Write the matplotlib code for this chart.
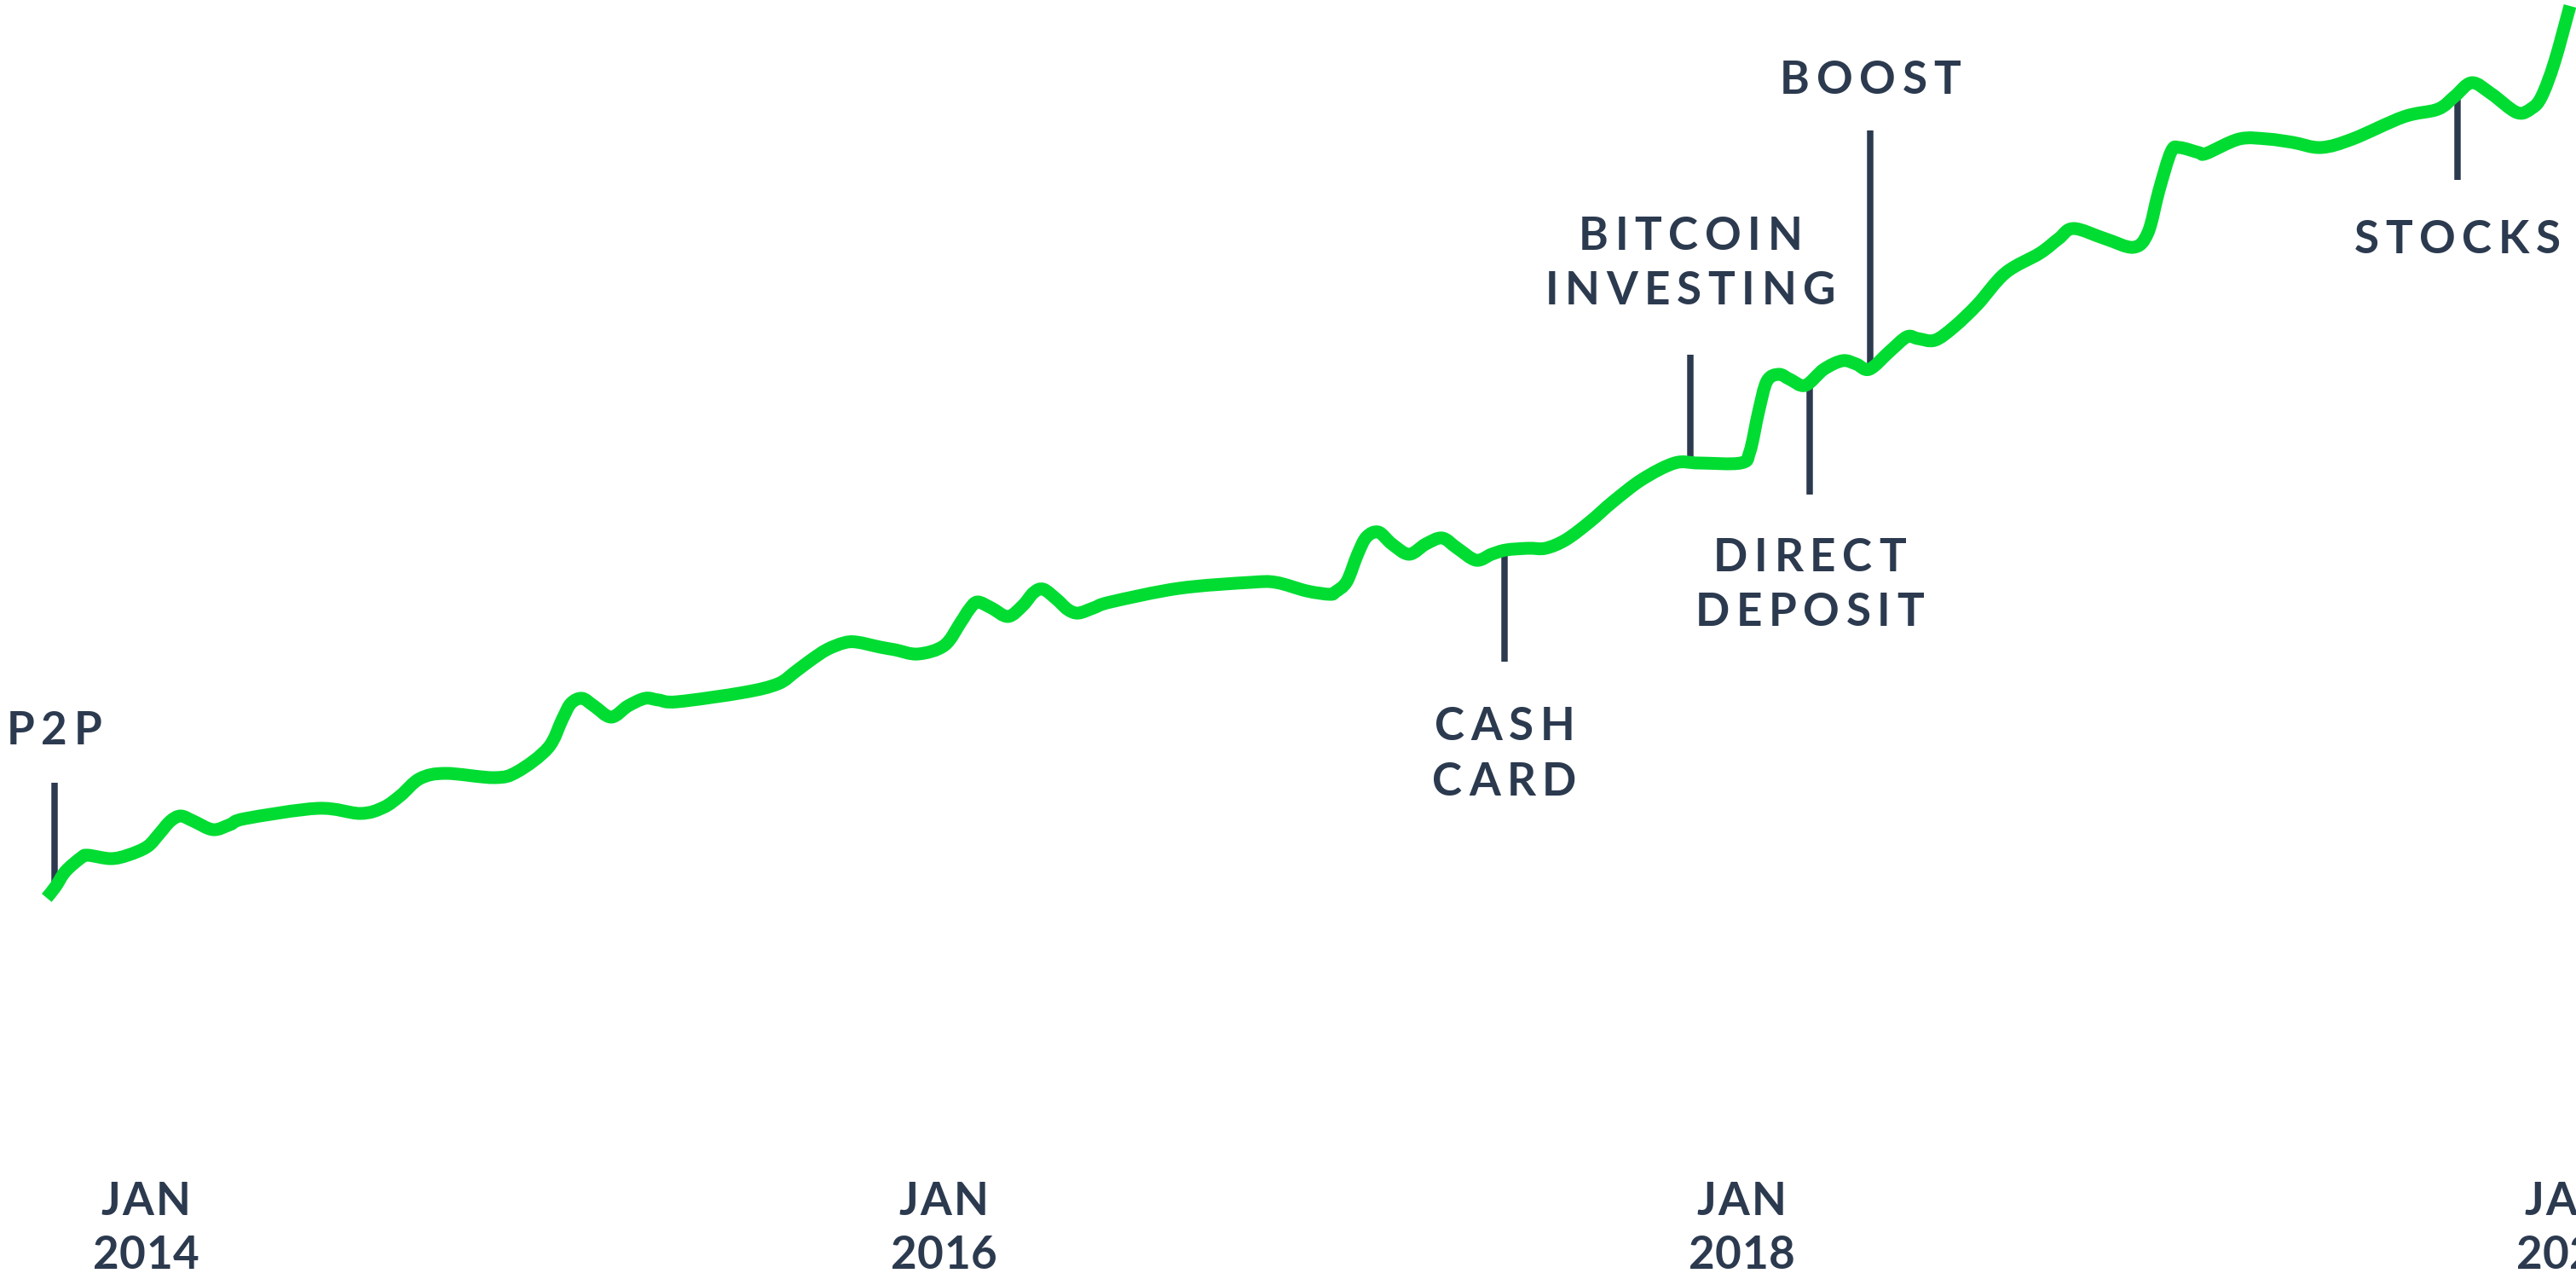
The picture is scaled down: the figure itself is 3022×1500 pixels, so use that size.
import numpy as np
import matplotlib
matplotlib.use("Agg")
import matplotlib.pyplot as plt
from matplotlib.font_manager import FontProperties, findfont
from matplotlib.ft2font import FT2Font
from matplotlib.transforms import offset_copy
from matplotlib.path import Path
from matplotlib.patches import PathPatch

# ---------------- data ----------------
years = [2013.752, 2013.774, 2013.799, 2013.838, 2013.855, 2013.912, 2013.955, 2014.004,
         2014.034, 2014.062, 2014.088, 2014.120, 2014.169, 2014.212, 2014.250, 2014.432,
         2014.538, 2014.596, 2014.639, 2014.688, 2014.752, 2014.874, 2014.932, 2015.009,
         2015.045, 2015.066, 2015.094, 2015.124, 2015.167, 2015.209, 2015.252, 2015.286,
         2015.333, 2015.500, 2015.585, 2015.628, 2015.665, 2015.707, 2015.750, 2015.782,
         2015.842, 2015.878, 2015.936, 2016.002, 2016.043, 2016.064, 2016.085, 2016.120,
         2016.162, 2016.199, 2016.226, 2016.250, 2016.284, 2016.312, 2016.338, 2016.376,
         2016.419, 2016.590, 2016.769, 2016.833, 2016.910, 2016.968, 2016.983, 2017.011,
         2017.038, 2017.060, 2017.090, 2017.124, 2017.167, 2017.209, 2017.250, 2017.288,
         2017.335, 2017.374, 2017.410, 2017.466, 2017.509, 2017.560, 2017.620, 2017.679,
         2017.752, 2017.833, 2017.893, 2017.998, 2018.021, 2018.043, 2018.064, 2018.094,
         2018.122, 2018.160, 2018.207, 2018.254, 2018.288, 2018.321, 2018.372, 2018.415,
         2018.442, 2018.485, 2018.534, 2018.592, 2018.662, 2018.748, 2018.795, 2018.833,
         2018.912, 2018.983, 2019.019, 2019.047, 2019.077, 2019.098, 2019.147, 2019.165,
         2019.248, 2019.318, 2019.382, 2019.453, 2019.532, 2019.660, 2019.746, 2019.788,
         2019.831, 2019.880, 2019.944, 2019.981, 2020.006, 2020.038, 2020.077]
values = [44.7, 46.0, 47.8, 49.4, 49.7, 49.3, 49.7, 50.7,
          52.2, 53.7, 54.3, 53.7, 52.7, 53.3, 54.0, 55.2,
          54.6, 55.3, 56.7, 58.7, 59.3, 58.8, 59.5, 62.3,
          65.7, 67.5, 68.1, 67.2, 65.9, 67.2, 68.1, 67.9,
          67.7, 68.8, 69.8, 71.2, 72.5, 73.8, 74.6, 74.7,
          74.1, 73.8, 73.3, 74.3, 77.0, 78.5, 79.4, 78.7,
          77.7, 79.0, 80.5, 80.9, 79.7, 78.5, 78.1, 78.7,
          79.4, 81.0, 81.7, 81.7, 80.7, 80.3, 80.6, 81.8,
          85.0, 87.0, 87.6, 86.2, 85.0, 86.2, 86.9, 85.7,
          84.3, 85.0, 85.5, 85.7, 85.7, 86.7, 88.8, 91.2,
          93.8, 95.7, 95.7, 95.7, 97.0, 101.7, 105.3, 106.1,
          105.5, 104.8, 106.7, 107.7, 107.3, 106.7, 108.8, 110.5,
          110.3, 110.1, 111.7, 114.3, 118.0, 120.3, 122.0, 123.2,
          122.0, 121.0, 122.7, 127.7, 132.2, 132.7, 132.1, 132.0,
          133.7, 133.7, 133.3, 132.7, 133.7, 136.3, 137.2, 138.7,
          140.3, 139.0, 136.8, 137.3, 138.7, 142.7, 149.3]

event_dates = [2013.771, 2017.406, 2017.872, 2018.171, 2018.323, 2019.795]
event_labels = ["P2P", "CASH\nCARD", "BITCOIN\nINVESTING", "DIRECT\nDEPOSIT", "BOOST", "STOCKS"]

tick_positions = [2014.0, 2016.0, 2018.0, 2020.075]
tick_months = ["JAN", "JAN", "JAN", "JAN"]
tick_years = ["2014", "2016", "2018", "2020"]

# ---------------- style / layout ----------------
GREEN = "#00DC32"
NAVY = "#2C3A4F"
DPI = 100
FONT_PT = 38.2
TRACK = 7.6
# per event: end of the marker line (value units), baselines of label lines
event_line_end = [58.2, 72.4, 108.4, 92.0, 134.7, 128.9]
event_baselines = [[62.7], [63.2, 56.7], [120.7, 114.3], [83.0, 76.6], [139.0], [120.3]]

fig = plt.figure(figsize=(30.22, 15.0), dpi=DPI)
ax = fig.add_axes([0, 0, 1, 1])
ax.set_xlim(2013.635, 2020.092)
ax.set_ylim(0, 150)
ax.axis("off")

fp = FontProperties(family=["Lato", "DejaVu Sans"], weight="bold", size=FONT_PT)
ftfont = FT2Font(findfont(fp), hinting_factor=1)
ftfont.set_size(FONT_PT, DPI)


def advances(s):
    out = []
    for c in s:
        g = ftfont.load_char(ord(c))
        out.append(g.linearHoriAdvance / 65536.0)
    return out


def tracked_text(x, y, s, track, color=NAVY):
    adv = advances(s)
    total = sum(adv) + track * (len(s) - 1)
    pen = -total / 2.0
    for c, a in zip(s, adv):
        tr = offset_copy(ax.transData, fig=fig, x=pen, y=0, units="dots")
        ax.text(x, y, c, transform=tr, fontproperties=fp, color=color,
                ha="left", va="baseline", zorder=4)
        pen += a + track


# main line, drawn as a smooth Catmull-Rom (cubic Bezier) path through the points
P = np.column_stack([years, values])
n = len(P)
verts = [P[0]]
codes = [Path.MOVETO]
for i in range(n - 1):
    p0 = P[i - 1] if i > 0 else P[i]
    p1 = P[i]
    p2 = P[i + 1]
    p3 = P[i + 2] if i + 2 < n else P[i + 1]
    verts += [p1 + (p2 - p0) / 6.0, p2 - (p3 - p1) / 6.0, p2]
    codes += [Path.CURVE4] * 3
curve = PathPatch(Path(verts, codes), facecolor="none", edgecolor=GREEN, lw=10.8,
                  joinstyle="round", capstyle="butt", zorder=3)
ax.add_patch(curve)

# events
for d, lab, lend, bls in zip(event_dates, event_labels, event_line_end, event_baselines):
    yc = float(np.interp(d, years, values))
    ax.plot([d, d], [yc, lend], color=NAVY, lw=5.4, solid_capstyle="butt", zorder=2)
    for line, bl in zip(lab.split("\n"), bls):
        tracked_text(d, bl, line, TRACK)

# x tick labels
for xp, m, yr in zip(tick_positions, tick_months, tick_years):
    tracked_text(xp, 7.5, m, 2.5)
    tracked_text(xp, 1.2, yr, 0.5)

fig.savefig("out.png", dpi=DPI, facecolor="white")
